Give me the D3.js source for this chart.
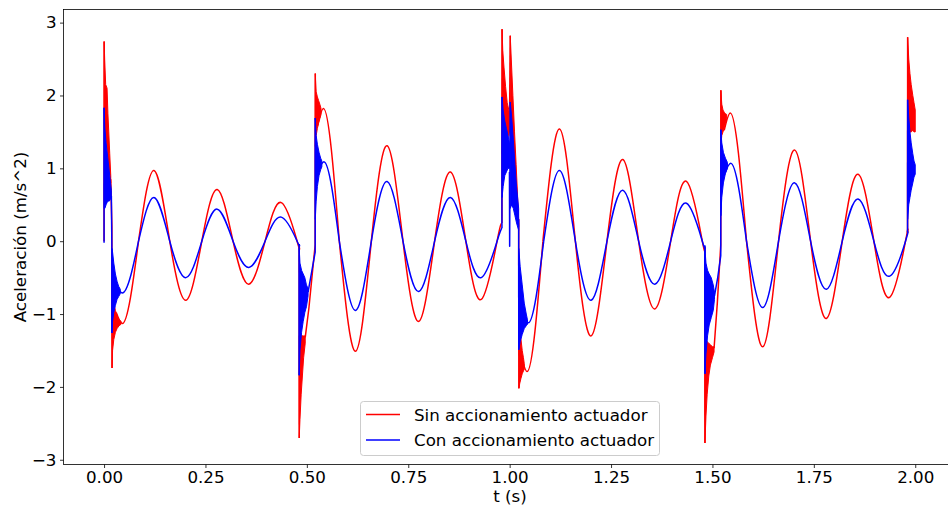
<!DOCTYPE html>
<html><head><meta charset="utf-8">
<script src="https://cdn.jsdelivr.net/npm/d3@7"></script>
<style>body{margin:0;background:#fff}svg{display:block}text{font-family:"DejaVu Sans",sans-serif;fill:#000}</style>
</head><body><svg id="c" width="948" height="506"></svg>
<script>
const xTicks = [0, 0.25, 0.5, 0.75, 1, 1.25, 1.5, 1.75, 2];
const yTicks = [-3, -2, -1, 0, 1, 2, 3];
const seriesNames = ["Sin accionamiento actuador", "Con accionamiento actuador"];
const seriesColors = ["#ff0000", "#0000ff"];
const xLabel = "t (s)";
const yLabel = "Aceleración (m/s^2)";

// smooth oscillation segments: [t, acceleration]
const redWave = [
  [[0.030,-0.98],[0.045,-1.13],[0.085,0],[0.123,0.97],[0.162,0],[0.202,-0.81],[0.241,0],[0.279,0.71],[0.318,0],[0.357,-0.59],[0.397,0],[0.437,0.53],[0.476,0],[0.481,-0.07]],
  [[0.526,1.58],[0.541,1.82],[0.580,0],[0.620,-1.51],[0.659,0],[0.698,1.31],[0.737,0],[0.776,-1.10],[0.815,0],[0.854,0.95],[0.892,0],[0.930,-0.80],[0.969,0],[0.981,0.25]],
  [[1.028,-1.55],[1.043,-1.79],[1.082,0],[1.123,1.54],[1.162,0],[1.201,-1.30],[1.240,0],[1.279,1.12],[1.318,0],[1.358,-0.93],[1.397,0],[1.436,0.82],[1.475,0],[1.481,-0.08]],
  [[1.529,1.52],[1.544,1.76],[1.584,0],[1.624,-1.45],[1.663,0],[1.703,1.25],[1.742,0],[1.781,-1.06],[1.820,0],[1.859,0.92],[1.898,0],[1.937,-0.77],[1.976,0],[1.981,0.12]]
];
const blueWave = [
  [[0.030,-0.61],[0.045,-0.71],[0.085,0],[0.123,0.60],[0.162,0],[0.202,-0.50],[0.241,0],[0.279,0.44],[0.318,0],[0.357,-0.36],[0.397,0],[0.437,0.33],[0.476,0],[0.481,-0.04]],
  [[0.527,0.94],[0.542,1.09],[0.580,0],[0.620,-0.95],[0.659,0],[0.698,0.82],[0.737,0],[0.776,-0.69],[0.815,0],[0.854,0.60],[0.892,0],[0.930,-0.50],[0.969,0],[0.981,0.18]],
  [[1.031,-0.97],[1.046,-1.12],[1.084,0],[1.123,0.97],[1.162,0],[1.201,-0.81],[1.240,0],[1.279,0.70],[1.318,0],[1.358,-0.59],[1.397,0],[1.436,0.52],[1.475,0],[1.481,-0.06]],
  [[1.530,0.92],[1.545,1.07],[1.584,0],[1.624,-0.91],[1.663,0],[1.703,0.80],[1.742,0],[1.781,-0.66],[1.820,0],[1.859,0.58],[1.898,0],[1.937,-0.48],[1.976,0],[1.981,0.12]]
];
// impacts and straight connecting pieces
const redJumps = [
  [[0,0],[0.0002,2.74]],
  [[0.0165,0.85],[0.0193,0.2],[0.0196,-1.74]],
  [[0.481,-0.07],[0.4812,-2.70]],
  [[0.496,-1.32],[0.505,-0.92],[0.513,-0.47],[0.5205,-0.05],[0.5208,2.30]],
  [[0.981,0.25],[0.9813,2.91]],
  [[0.9995,1.5],[1.0015,2.82]],
  [[1.0222,0.3],[1.0228,-2.02]],
  [[1.481,-0.08],[1.4815,-2.77]],
  [[1.504,-1.47],[1.512,-0.85],[1.5205,-0.05],[1.5208,2.07]],
  [[1.981,0.12],[1.9813,2.80]]
];
const blueJumps = [
  [[0,-0.02],[0.0002,1.83]],
  [[0.018,0.62],[0.0192,-0.05],[0.0194,-1.26]],
  [[0.481,-0.04],[0.4812,-1.84]],
  [[0.503,-0.70],[0.511,-0.45],[0.5205,-0.15],[0.5208,1.69]],
  [[0.981,0.18],[0.9813,1.98]],
  [[0.9995,0.95],[1.0000,-0.07],[1.0008,0.9],[1.0015,1.91]],
  [[1.0222,0.3],[1.0225,-1.49]],
  [[1.481,-0.06],[1.4815,-1.82]],
  [[1.505,-0.75],[1.513,-0.5],[1.5205,-0.2],[1.5208,1.53]],
  [[1.981,0.12],[1.9813,1.94]]
];
// high-frequency vibration bursts: [t, low, high]
const redBursts = [
  [[0.0003,1.6,2.74],[0.0015,1.5,2.5],[0.004,1.4,2.15],[0.0074,1.25,2.1],[0.0095,1.1,1.75],[0.0116,1.0,1.5],[0.014,0.9,1.2],[0.0165,0.8,0.9]],
  [[0.0198,-1.74,-0.8],[0.021,-1.5,-0.8],[0.024,-1.35,-0.85],[0.028,-1.25,-0.95],[0.032,-1.2,-1.02],[0.037,-1.16,-1.08],[0.042,-1.14,-1.1]],
  [[0.4812,-2.70,-1.3],[0.483,-2.45,-1.28],[0.486,-2.1,-1.28],[0.489,-1.85,-1.3],[0.492,-1.6,-1.3],[0.496,-1.4,-1.3]],
  [[0.5208,1.3,2.30],[0.523,1.45,2.05],[0.526,1.55,1.98],[0.529,1.62,1.93],[0.532,1.68,1.88],[0.535,1.74,1.82]],
  [[0.9813,1.2,2.91],[0.983,1.3,2.62],[0.986,1.35,2.39],[0.99,1.4,2.12],[0.994,1.42,1.9],[0.998,1.45,1.8],[0.9995,1.5,1.7]],
  [[1.0015,1.3,2.82],[1.004,1.2,2.5],[1.008,1.0,2.0],[1.012,0.8,1.5],[1.016,0.6,1.05],[1.0222,0.2,0.3]],
  [[1.0228,-2.02,-1.2],[1.025,-1.95,-1.25],[1.028,-1.88,-1.35],[1.031,-1.82,-1.5],[1.034,-1.78,-1.6],[1.036,-1.76,-1.68]],
  [[1.4815,-2.77,-1.35],[1.484,-2.4,-1.35],[1.487,-2.1,-1.38],[1.491,-1.85,-1.4],[1.495,-1.7,-1.42],[1.5,-1.6,-1.45],[1.504,-1.52,-1.45]],
  [[1.5208,1.3,2.07],[1.523,1.45,1.88],[1.526,1.5,1.8],[1.529,1.55,1.77],[1.532,1.62,1.75],[1.535,1.68,1.74]],
  [[1.9813,1.4,2.80],[1.984,1.45,2.5],[1.987,1.5,2.3],[1.99,1.5,2.15],[1.994,1.52,2.0],[1.997,1.5,1.9],[2.0,1.5,1.8]]
];
const blueBursts = [
  [[0.0002,0.45,1.83],[0.002,0.45,1.55],[0.005,0.5,1.35],[0.009,0.55,1.15],[0.013,0.55,0.95],[0.016,0.58,0.8],[0.018,0.6,0.7]],
  [[0.0194,-1.26,-0.1],[0.021,-1.1,-0.15],[0.024,-0.98,-0.3],[0.028,-0.88,-0.45],[0.032,-0.8,-0.55],[0.036,-0.76,-0.62],[0.04,-0.72,-0.66]],
  [[0.4812,-1.84,-0.1],[0.483,-1.5,-0.3],[0.487,-1.25,-0.4],[0.491,-1.1,-0.45],[0.495,-0.98,-0.5],[0.499,-0.9,-0.6],[0.503,-0.75,-0.65]],
  [[0.5208,0.3,1.69],[0.523,0.55,1.45],[0.526,0.75,1.33],[0.53,0.9,1.22],[0.534,0.98,1.14],[0.537,1.02,1.1]],
  [[0.9813,0.6,1.98],[0.984,0.75,1.8],[0.988,0.9,1.65],[0.992,0.95,1.55],[0.996,1.0,1.45],[0.9995,1.0,1.35]],
  [[1.0015,0.45,1.91],[1.005,0.5,1.7],[1.009,0.45,1.4],[1.013,0.35,1.05],[1.017,0.25,0.75],[1.0222,0.15,0.45]],
  [[1.0225,-1.49,-0.1],[1.026,-1.38,-0.35],[1.031,-1.28,-0.6],[1.036,-1.2,-0.85],[1.041,-1.16,-1.0],[1.044,-1.14,-1.08]],
  [[1.4815,-1.82,-0.1],[1.484,-1.55,-0.3],[1.488,-1.3,-0.4],[1.492,-1.15,-0.45],[1.497,-1.05,-0.5],[1.502,-0.95,-0.6],[1.505,-0.8,-0.7]],
  [[1.5208,0.35,1.53],[1.523,0.6,1.35],[1.527,0.8,1.22],[1.532,0.93,1.14],[1.537,1.0,1.08]],
  [[1.9813,0.3,1.94],[1.984,0.5,1.7],[1.987,0.6,1.5],[1.99,0.7,1.35],[1.994,0.8,1.2],[1.997,0.88,1.1],[2.0,0.92,1.05]]
];

const svg = d3.select("#c");
const L = 63.5, T = 9.5, R = 955.8, B = 464.5;
const x = d3.scaleLinear().domain([-0.1, 2.1]).range([L, R]);
const y = d3.scaleLinear().domain([-3.065, 3.18]).range([B, T]);
const FS = 16.7;

svg.append("defs").append("clipPath").attr("id", "clip")
  .append("rect").attr("x", L).attr("y", T).attr("width", R - L).attr("height", B - T);

const plot = svg.append("g").attr("clip-path", "url(#clip)");
const smooth = d3.line().x(d => x(d[0])).y(d => y(d[1])).curve(d3.curveNatural);
const head = d3.line().x(d => x(d[0])).y(d => y(d[1])).curve(d3.curveMonotoneX);
const straight = d3.line().x(d => x(d[0])).y(d => y(d[1]));
const band = d3.area().x(d => x(d[0])).y0(d => y(d[1])).y1(d => y(d[2]));

const series = [
  {wave: redWave, jumps: redJumps, bursts: redBursts, color: seriesColors[0]},
  {wave: blueWave, jumps: blueJumps, bursts: blueBursts, color: seriesColors[1]}
];
series.forEach(s => {
  const g = plot.append("g");
  // first half-wave (start, extremum, zero crossing) with a monotone curve, remainder with a natural spline
  g.selectAll("path.h").data(s.wave).join("path").attr("class", "h")
    .attr("d", w => head(w.slice(0, 3))).attr("fill", "none").attr("stroke", s.color).attr("stroke-width", 1.5);
  g.selectAll("path.w").data(s.wave).join("path").attr("class", "w")
    .attr("d", w => smooth(w.slice(2))).attr("fill", "none").attr("stroke", s.color).attr("stroke-width", 1.5);
  g.selectAll("path.b").data(s.bursts).join("path").attr("class", "b")
    .attr("d", band).attr("fill", s.color).attr("stroke", s.color).attr("stroke-width", 1).attr("stroke-linejoin", "round");
  g.selectAll("path.j").data(s.jumps).join("path").attr("class", "j")
    .attr("d", straight).attr("fill", "none").attr("stroke", s.color).attr("stroke-width", 1.5).attr("stroke-linejoin", "round");
});

// axes
const xAxis = d3.axisBottom(x).tickValues(xTicks).tickFormat(d3.format(".2f")).tickSize(3.5).tickPadding(3.5).tickSizeOuter(0);
const yAxis = d3.axisLeft(y).tickValues(yTicks).tickFormat(d => d < 0 ? "\u2212" + Math.abs(d) : String(d)).tickSize(3.5).tickPadding(3.5).tickSizeOuter(0);
const gx = svg.append("g").attr("transform", `translate(0,${B})`).call(xAxis);
const gy = svg.append("g").attr("transform", `translate(${L},0)`).call(yAxis);
[gx, gy].forEach(g => {
  g.select(".domain").remove();
  g.selectAll("line").attr("stroke", "#000").attr("stroke-width", 0.8);
  g.selectAll("text").attr("font-size", FS).attr("font-family", "DejaVu Sans").attr("fill", "#000");
});

// spines
const sp = svg.append("g").attr("stroke", "#000").attr("stroke-width", 0.8).attr("fill", "none");
sp.append("rect").attr("x", L).attr("y", T).attr("width", R - L).attr("height", B - T);

// axis labels
svg.append("text").attr("x", 510).attr("y", 502).attr("text-anchor", "middle")
  .attr("font-size", FS).text(xLabel);
svg.append("text").attr("transform", `translate(25.5,${(T + B) / 2}) rotate(-90)`).attr("text-anchor", "middle")
  .attr("font-size", FS).text(yLabel);

// legend
const lg = svg.append("g");
lg.append("rect").attr("x", 360.5).attr("y", 401.5).attr("width", 299).attr("height", 54).attr("rx", 3)
  .attr("fill", "#fff").attr("fill-opacity", 0.8).attr("stroke", "#cccccc").attr("stroke-width", 1);
seriesNames.forEach((n, i) => {
  const yy = 414.5 + i * 25.5;
  lg.append("line").attr("x1", 366).attr("x2", 400).attr("y1", yy).attr("y2", yy)
    .attr("stroke", seriesColors[i]).attr("stroke-width", 1.5);
  lg.append("text").attr("x", 414).attr("y", yy + 6).attr("font-size", FS).text(n);
});
</script></body></html>
